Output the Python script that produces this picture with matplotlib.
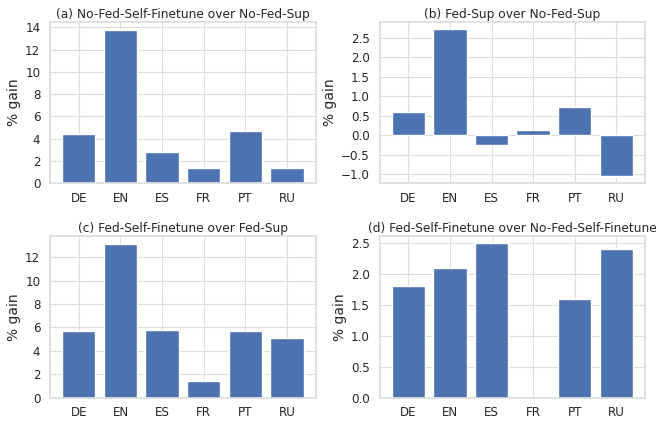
import matplotlib
matplotlib.use('Agg')
import matplotlib.pyplot as plt
from matplotlib.ticker import MultipleLocator
import seaborn as sns

sns.set_theme(style='whitegrid')
plt.rcParams['font.family'] = ['DejaVu Sans']

langs = ['DE', 'EN', 'ES', 'FR', 'PT', 'RU']

# % gain values per panel
gain_a = [4.4, 13.8, 2.8, 1.4, 4.7, 1.4]
gain_b = [0.58, 2.72, -0.26, 0.14, 0.72, -1.05]
gain_c = [5.7, 13.1, 5.8, 1.4, 5.7, 5.1]
gain_d = [1.8, 2.1, 2.5, 0.0, 1.6, 2.4]

titles = [
    '(a) No-Fed-Self-Finetune over No-Fed-Sup',
    '(b) Fed-Sup over No-Fed-Sup',
    '(c) Fed-Self-Finetune over Fed-Sup',
    '(d) Fed-Self-Finetune over No-Fed-Self-Finetune',
]
steps = [2, 0.5, 2, 0.5]

fig, axes = plt.subplots(2, 2, figsize=(6.59, 4.21), dpi=100)
fig.subplots_adjust(left=0.076, right=0.979, top=0.948, bottom=0.055,
                    hspace=0.33, wspace=0.24)

for ax, vals, title, step in zip(axes.flat, [gain_a, gain_b, gain_c, gain_d], titles, steps):
    ax.bar(langs, vals, color='#4c72b0')
    ax.set_title(title, fontsize=8.8, pad=3)
    ax.set_ylabel('% gain', fontsize=10, labelpad=3)
    ax.yaxis.set_major_locator(MultipleLocator(step))
    ax.tick_params(labelsize=8.6, pad=1)
    ax.tick_params(axis='x', pad=0)
    ax.grid(True, color='#dddddd', linewidth=0.8)
    for sp in ax.spines.values():
        sp.set_color('#dddddd')
    ax.set_axisbelow(True)

axes[1, 1].set_ylim(0, 2.6)

plt.savefig('out.png', dpi=100)
